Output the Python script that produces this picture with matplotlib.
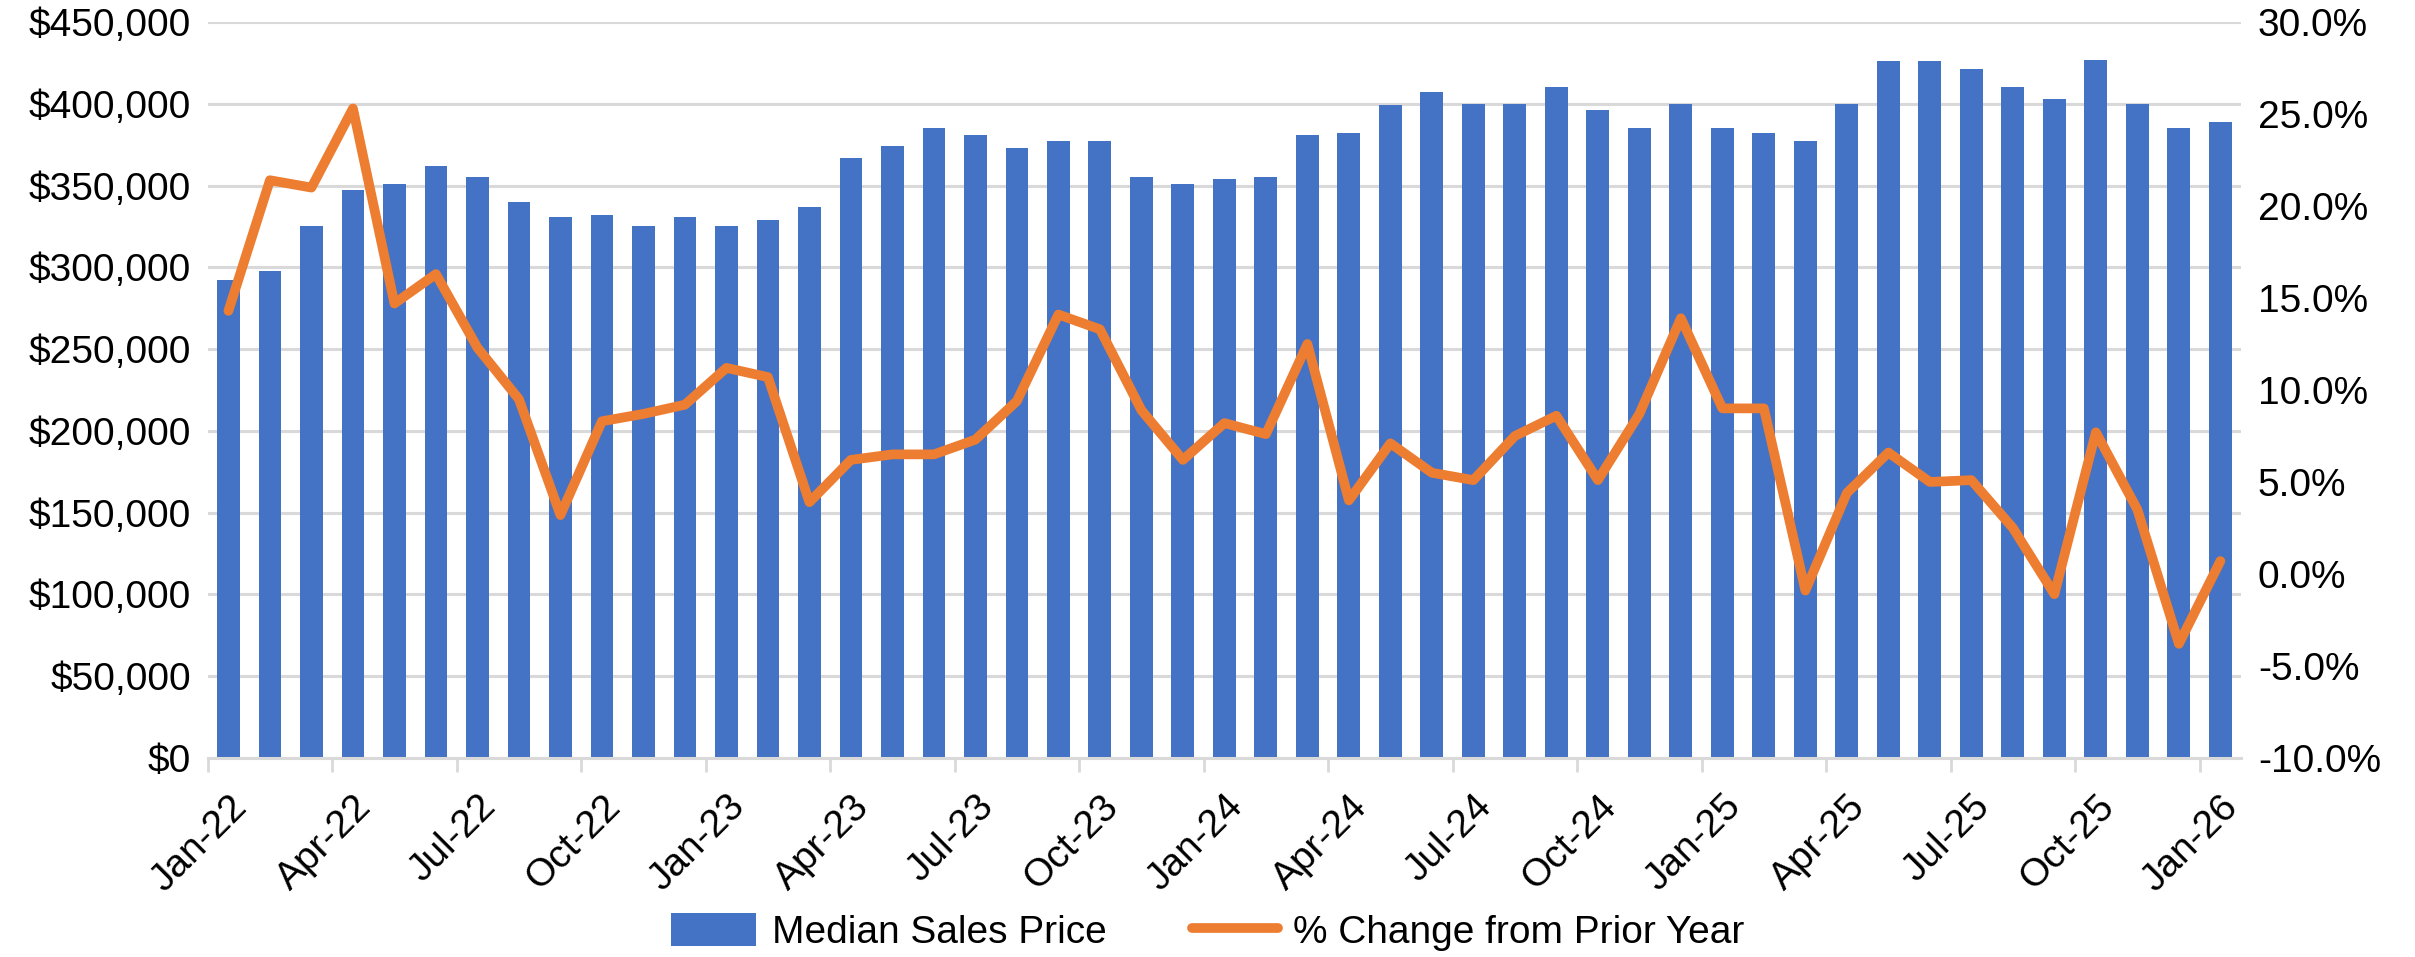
import matplotlib.pyplot as plt
import matplotlib.ticker as mticker
import numpy as np

plt.rcParams['font.family'] = ['Liberation Sans', 'DejaVu Sans']

months = ['Jan-22', 'Feb-22', 'Mar-22', 'Apr-22', 'May-22', 'Jun-22', 'Jul-22', 'Aug-22', 'Sep-22', 'Oct-22', 'Nov-22', 'Dec-22',
          'Jan-23', 'Feb-23', 'Mar-23', 'Apr-23', 'May-23', 'Jun-23', 'Jul-23', 'Aug-23', 'Sep-23', 'Oct-23', 'Nov-23', 'Dec-23',
          'Jan-24', 'Feb-24', 'Mar-24', 'Apr-24', 'May-24', 'Jun-24', 'Jul-24', 'Aug-24', 'Sep-24', 'Oct-24', 'Nov-24', 'Dec-24',
          'Jan-25', 'Feb-25', 'Mar-25', 'Apr-25', 'May-25', 'Jun-25', 'Jul-25', 'Aug-25', 'Sep-25', 'Oct-25', 'Nov-25', 'Dec-25',
          'Jan-26']
median_price = [292000, 298000, 325000, 347000, 351000, 362000, 355000, 340000, 331000, 332000, 325000, 331000,
                325000, 329000, 337000, 367000, 374000, 385000, 381000, 373000, 377000, 377000, 355000, 351000,
                354000, 355000, 381000, 382000, 399000, 407000, 400000, 400000, 410000, 396000, 385000, 400000,
                385000, 382000, 377000, 400000, 426000, 426000, 421000, 410000, 403000, 427000, 400000, 385000,
                389000]
pct_change = [14.3, 21.4, 21.0, 25.3, 14.7, 16.3, 12.3, 9.5, 3.2, 8.3, 8.7, 9.2,
              11.2, 10.7, 3.9, 6.2, 6.5, 6.5, 7.3, 9.4, 14.1, 13.3, 8.9, 6.2,
              8.2, 7.6, 12.5, 4.0, 7.1, 5.5, 5.1, 7.5, 8.6, 5.1, 8.7, 13.9,
              9.0, 9.0, -0.9, 4.4, 6.6, 5.0, 5.1, 2.5, -1.1, 7.7, 3.5, -3.8,
              0.7]

x = np.arange(len(months))

fig = plt.figure(figsize=(24.15, 9.57), dpi=100)
ax1 = fig.add_axes([0.086, 0.208, 0.842, 0.769])
ax2 = ax1.twinx()

bars = ax1.bar(x, median_price, width=0.55, color='#4472C4', label='Median Sales Price', zorder=2)
line, = ax2.plot(x, pct_change, color='#ED7D31', linewidth=7, solid_joinstyle='round',
                 solid_capstyle='round', label='% Change from Prior Year')

ax1.set_xlim(-0.5, len(months) - 0.5)
ax1.set_ylim(0, 450000)
ax1.set_yticks(np.arange(0, 450001, 50000))
ax1.yaxis.set_major_formatter(mticker.FuncFormatter(lambda v, p: f'${v:,.0f}'))
ax1.grid(axis='y', color='#d9d9d9', linewidth=2.2, zorder=0)
ax1.set_axisbelow(True)

ax2.set_ylim(-10, 30)
ax2.set_yticks(np.arange(-10, 30.1, 5))
ax2.yaxis.set_major_formatter(mticker.FuncFormatter(lambda v, p: f'{v:.1f}%'))

# labels every 3 months, tick marks on category boundaries
ax1.set_xticks(x[::3])
ax1.set_xticklabels(months[::3], rotation=45, ha='right', rotation_mode='anchor')
ax1.set_xticks(np.arange(-0.5, len(months) - 0.4, 3), minor=True)
ax1.tick_params(axis='x', which='major', length=0, pad=22, labelsize=28)
ax1.tick_params(axis='x', which='minor', length=10, width=2, color='#d9d9d9')
ax1.tick_params(axis='y', length=0, labelsize=28, pad=12)
ax2.tick_params(axis='y', length=0, labelsize=28, pad=12)

for ax in (ax1, ax2):
    for s in ('top', 'left', 'right'):
        ax.spines[s].set_visible(False)
ax1.spines['bottom'].set_color('#d9d9d9')
ax1.spines['bottom'].set_linewidth(2.2)
ax2.spines['bottom'].set_visible(False)

fig.legend([bars, line], ['Median Sales Price', '% Change from Prior Year'], loc='center',
           bbox_to_anchor=(0.5, 0.026), ncol=2, frameon=False, fontsize=28,
           handlelength=2.2, handleheight=0.9, handletextpad=0.4, columnspacing=2.2)

fig.savefig('out.png', dpi=100)
